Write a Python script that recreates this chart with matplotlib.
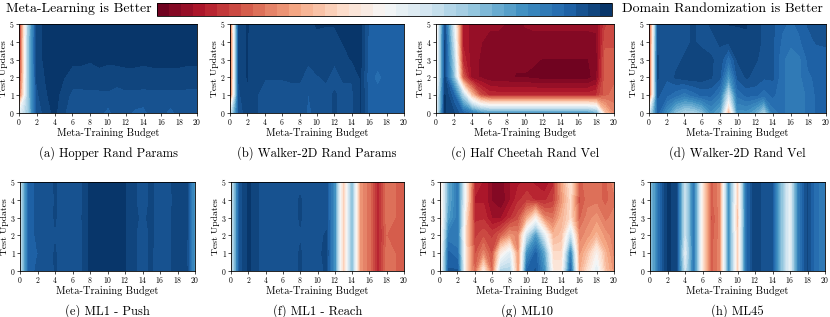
import numpy as np
import matplotlib
matplotlib.use('Agg')
import matplotlib.pyplot as plt

plt.rcParams['font.family'] = ['cmr10', 'DejaVu Serif']
plt.rcParams['mathtext.fontset'] = 'cm'
plt.rcParams['axes.formatter.use_mathtext'] = True

budget = np.arange(21)
updates = np.arange(6)

titles = ['(a) Hopper Rand Params', '(b) Walker-2D Rand Params',
          '(c) Half Cheetah Rand Vel', '(d) Walker-2D Rand Vel',
          '(e) ML1 - Push', '(f) ML1 - Reach', '(g) ML10', '(h) ML45']

# rows: test updates 0..5, columns: meta-training budget 0..20
hopper_params = [
    [0.05, 0.35, 0.85, 0.92, 0.96, 0.90, 0.87, 0.87, 0.87, 0.86, 0.82, 0.87, 0.86, 0.83, 0.82, 0.87, 0.86, 0.82, 0.86, 0.87, 0.87],
    [-0.70, 0.35, 0.88, 0.94, 0.97, 0.92, 0.88, 0.88, 0.88, 0.88, 0.88, 0.87, 0.88, 0.88, 0.88, 0.88, 0.88, 0.88, 0.88, 0.88, 0.88],
    [-0.80, 0.35, 0.90, 0.95, 0.97, 0.95, 0.92, 0.92, 0.93, 0.93, 0.94, 0.92, 0.93, 0.93, 0.92, 0.93, 0.93, 0.93, 0.93, 0.92, 0.92],
    [-0.85, 0.35, 0.92, 0.96, 0.97, 0.96, 0.96, 0.96, 0.95, 0.96, 0.95, 0.96, 0.96, 0.96, 0.96, 0.96, 0.96, 0.96, 0.96, 0.96, 0.96],
    [-0.85, 0.35, 0.92, 0.96, 0.97, 0.96, 0.97, 0.97, 0.97, 0.97, 0.97, 0.97, 0.97, 0.97, 0.97, 0.97, 0.97, 0.97, 0.97, 0.97, 0.97],
    [-0.85, 0.30, 0.92, 0.96, 0.97, 0.96, 0.95, 0.97, 0.97, 0.97, 0.97, 0.97, 0.97, 0.97, 0.97, 0.97, 0.97, 0.97, 0.97, 0.97, 0.97],
]

walker_params = [
    [0.10, 0.85, 0.93, 0.90, 0.87, 0.85, 0.87, 0.88, 0.88, 0.83, 0.86, 0.88, 0.90, 0.88, 0.88, 0.95, 0.82, 0.82, 0.83, 0.82, 0.82],
    [-0.75, 0.88, 0.94, 0.90, 0.86, 0.85, 0.86, 0.88, 0.88, 0.84, 0.87, 0.88, 0.90, 0.88, 0.88, 0.95, 0.82, 0.80, 0.82, 0.82, 0.82],
    [-0.80, 0.90, 0.95, 0.90, 0.90, 0.90, 0.90, 0.90, 0.90, 0.88, 0.89, 0.90, 0.88, 0.90, 0.90, 0.95, 0.80, 0.78, 0.80, 0.82, 0.82],
    [-0.80, 0.90, 0.95, 0.90, 0.90, 0.90, 0.90, 0.92, 0.90, 0.90, 0.92, 0.92, 0.90, 0.93, 0.95, 0.96, 0.82, 0.80, 0.82, 0.82, 0.82],
    [-0.80, 0.90, 0.95, 0.90, 0.90, 0.90, 0.92, 0.92, 0.90, 0.92, 0.94, 0.93, 0.93, 0.95, 0.96, 0.96, 0.82, 0.82, 0.82, 0.82, 0.82],
    [-0.80, 0.92, 0.95, 0.92, 0.93, 0.94, 0.93, 0.93, 0.92, 0.94, 0.95, 0.95, 0.95, 0.96, 0.96, 0.96, 0.83, 0.82, 0.83, 0.83, 0.83],
]

cheetah_vel = [
    [0.00, 0.95, 0.90, 0.80, 0.70, 0.60, 0.55, 0.55, 0.55, 0.55, 0.55, 0.55, 0.55, 0.55, 0.55, 0.55, 0.55, 0.55, 0.45, -0.30, -0.50],
    [-0.10, 0.95, 0.80, 0.30, -0.30, -0.65, -0.75, -0.76, -0.76, -0.76, -0.76, -0.76, -0.76, -0.76, -0.76, -0.76, -0.76, -0.76, -0.74, -0.60, -0.55],
    [-0.20, 0.90, 0.40, -0.60, -0.87, -0.90, -0.93, -0.94, -0.94, -0.95, -0.95, -0.96, -0.97, -0.97, -0.97, -0.97, -0.97, -0.97, -0.92, -0.60, -0.60],
    [-0.20, 0.90, 0.30, -0.75, -0.87, -0.90, -0.94, -0.94, -0.94, -0.94, -0.94, -0.94, -0.95, -0.95, -0.95, -0.95, -0.95, -0.95, -0.93, -0.60, -0.60],
    [-0.20, 0.90, 0.20, -0.80, -0.87, -0.89, -0.92, -0.92, -0.92, -0.93, -0.92, -0.92, -0.92, -0.92, -0.92, -0.92, -0.92, -0.92, -0.91, -0.65, -0.65],
    [-0.20, 0.85, 0.10, -0.80, -0.86, -0.87, -0.88, -0.88, -0.90, -0.92, -0.89, -0.88, -0.88, -0.88, -0.88, -0.88, -0.88, -0.88, -0.88, -0.70, -0.65],
]

walker_vel = [
    [0.10, 0.80, 0.60, 0.40, 0.30, 0.30, 0.40, 0.60, 0.50, -0.40, 0.60, 0.60, 0.50, 0.30, 0.70, 0.75, 0.70, 0.70, 0.75, 0.80, 0.80],
    [-0.80, 0.85, 0.80, 0.75, 0.70, 0.75, 0.80, 0.80, 0.70, 0.15, 0.75, 0.80, 0.80, 0.75, 0.80, 0.75, 0.70, 0.70, 0.75, 0.80, 0.80],
    [-0.85, 0.90, 0.85, 0.90, 0.92, 0.93, 0.92, 0.90, 0.85, 0.55, 0.85, 0.90, 0.88, 0.85, 0.85, 0.75, 0.70, 0.72, 0.78, 0.80, 0.82],
    [-0.85, 0.90, 0.85, 0.88, 0.90, 0.92, 0.92, 0.90, 0.88, 0.75, 0.90, 0.92, 0.90, 0.88, 0.85, 0.75, 0.70, 0.72, 0.80, 0.80, 0.82],
    [-0.85, 0.88, 0.85, 0.85, 0.88, 0.90, 0.88, 0.88, 0.90, 0.90, 0.93, 0.94, 0.92, 0.88, 0.85, 0.78, 0.75, 0.78, 0.82, 0.85, 0.85],
    [-0.85, 0.85, 0.85, 0.85, 0.88, 0.90, 0.88, 0.90, 0.92, 0.95, 0.95, 0.95, 0.92, 0.88, 0.85, 0.80, 0.78, 0.80, 0.85, 0.85, 0.85],
]

ml1_push = [
    [0.20, 0.80, 0.86, 0.85, 0.90, 0.86, 0.86, 0.88, 0.96, 0.97, 0.97, 0.97, 0.95, 0.90, 0.88, 0.90, 0.86, 0.88, 0.93, 0.93, 0.55],
    [0.20, 0.80, 0.84, 0.86, 0.90, 0.86, 0.86, 0.88, 0.96, 0.97, 0.97, 0.97, 0.95, 0.90, 0.88, 0.90, 0.87, 0.88, 0.93, 0.92, 0.55],
    [0.20, 0.80, 0.86, 0.88, 0.89, 0.86, 0.87, 0.88, 0.96, 0.97, 0.97, 0.97, 0.95, 0.90, 0.88, 0.90, 0.88, 0.88, 0.93, 0.93, 0.55],
    [0.20, 0.80, 0.86, 0.86, 0.90, 0.86, 0.86, 0.89, 0.96, 0.97, 0.97, 0.97, 0.95, 0.90, 0.89, 0.90, 0.88, 0.88, 0.93, 0.93, 0.55],
    [0.20, 0.80, 0.86, 0.85, 0.90, 0.87, 0.86, 0.88, 0.96, 0.97, 0.97, 0.97, 0.95, 0.90, 0.88, 0.90, 0.88, 0.87, 0.93, 0.93, 0.55],
    [0.20, 0.80, 0.86, 0.86, 0.90, 0.86, 0.86, 0.88, 0.96, 0.97, 0.97, 0.97, 0.95, 0.90, 0.88, 0.90, 0.88, 0.88, 0.93, 0.93, 0.55],
]

ml1_reach = [
    [0.15, 0.86, 0.97, 0.90, 0.86, 0.86, 0.86, 0.87, 0.90, 0.86, 0.88, 0.90, 0.60, -0.25, 0.45, -0.45, -0.55, -0.78, -0.55, -0.58, -0.58],
    [0.15, 0.86, 0.97, 0.90, 0.86, 0.86, 0.86, 0.87, 0.90, 0.86, 0.88, 0.91, 0.60, -0.25, 0.45, -0.45, -0.55, -0.78, -0.55, -0.58, -0.58],
    [0.15, 0.86, 0.97, 0.90, 0.86, 0.86, 0.86, 0.87, 0.89, 0.86, 0.88, 0.90, 0.60, -0.25, 0.45, -0.45, -0.55, -0.78, -0.58, -0.58, -0.58],
    [0.15, 0.86, 0.97, 0.90, 0.86, 0.86, 0.86, 0.87, 0.90, 0.86, 0.88, 0.88, 0.60, -0.25, 0.45, -0.45, -0.55, -0.78, -0.55, -0.58, -0.58],
    [0.15, 0.86, 0.97, 0.90, 0.86, 0.86, 0.86, 0.87, 0.90, 0.86, 0.87, 0.88, 0.60, -0.25, 0.45, -0.45, -0.55, -0.78, -0.55, -0.58, -0.58],
    [0.15, 0.86, 0.97, 0.90, 0.86, 0.86, 0.86, 0.87, 0.88, 0.86, 0.87, 0.88, 0.60, -0.25, 0.45, -0.45, -0.55, -0.78, -0.55, -0.58, -0.58],
]

ml10 = [
    [-0.20, 0.85, 0.85, -0.20, -0.60, -0.10, -0.60, 0.30, 0.30, -0.50, 0.80, 0.85, 0.60, -0.10, -0.10, 0.80, -0.40, -0.15, 0.10, -0.30, -0.45],
    [-0.20, 0.80, 0.75, -0.20, -0.65, -0.50, -0.65, -0.10, 0.10, -0.50, 0.60, 0.80, 0.50, -0.20, -0.20, 0.65, -0.45, -0.30, -0.05, -0.35, -0.50],
    [-0.25, 0.70, 0.70, -0.25, -0.70, -0.65, -0.70, -0.60, -0.45, -0.50, 0.20, 0.55, 0.10, -0.35, -0.30, 0.20, -0.50, -0.45, -0.35, -0.45, -0.50],
    [-0.25, 0.55, 0.70, -0.20, -0.75, -0.75, -0.85, -0.85, -0.75, -0.65, -0.40, -0.10, -0.50, -0.55, -0.35, -0.20, -0.60, -0.50, -0.45, -0.55, -0.50],
    [-0.20, 0.50, 0.70, -0.10, -0.80, -0.80, -0.90, -0.95, -0.85, -0.75, -0.70, -0.75, -0.75, -0.70, -0.45, -0.20, -0.65, -0.55, -0.55, -0.60, -0.55],
    [-0.20, 0.50, 0.70, -0.10, -0.75, -0.80, -0.90, -0.92, -0.85, -0.80, -0.78, -0.80, -0.85, -0.75, -0.40, -0.15, -0.60, -0.55, -0.55, -0.60, -0.50],
]

ml45 = [
    [0.35, 0.75, 0.97, 0.92, 0.15, 0.70, -0.15, -0.60, -0.50, 0.60, -0.30, 0.75, 0.95, 0.86, 0.86, 0.40, 0.05, 0.70, 0.90, 0.75, 0.70],
    [0.35, 0.75, 0.97, 0.92, 0.05, 0.70, -0.15, -0.60, -0.50, 0.60, -0.30, 0.75, 0.95, 0.86, 0.86, 0.40, 0.05, 0.70, 0.90, 0.75, 0.70],
    [0.35, 0.75, 0.97, 0.92, 0.15, 0.70, -0.15, -0.62, -0.50, 0.60, -0.30, 0.75, 0.95, 0.86, 0.86, 0.40, 0.05, 0.70, 0.90, 0.75, 0.70],
    [0.35, 0.75, 0.97, 0.92, 0.15, 0.70, -0.15, -0.65, -0.50, 0.60, -0.35, 0.75, 0.95, 0.86, 0.86, 0.40, 0.05, 0.70, 0.90, 0.75, 0.70],
    [0.35, 0.75, 0.97, 0.92, 0.15, 0.70, -0.15, -0.60, -0.50, 0.60, -0.30, 0.75, 0.95, 0.86, 0.86, 0.40, 0.05, 0.70, 0.90, 0.75, 0.70],
    [0.35, 0.75, 0.97, 0.92, 0.15, 0.70, -0.15, -0.60, -0.50, 0.60, -0.30, 0.75, 0.95, 0.86, 0.86, 0.40, 0.05, 0.70, 0.90, 0.75, 0.70],
]

grids = [hopper_params, walker_params, cheetah_vel, walker_vel,
         ml1_push, ml1_reach, ml10, ml45]

# axes boxes in pixels: left, right, top, bottom
boxes = [(19, 197, 24, 113), (230, 404, 24, 113), (436, 614, 24, 113), (649, 826, 24, 113),
         (20, 195, 182, 271), (231, 404, 182, 271), (440, 614, 182, 271), (650, 825, 182, 271)]

W, H = 830, 317
fig = plt.figure(figsize=(W / 100, H / 100), dpi=100)
levels = np.linspace(-1, 1, 39)

cs = None
for (l, r, t, b), Z, title in zip(boxes, grids, titles):
    ax = fig.add_axes([l / W, 1 - b / H, (r - l) / W, (b - t) / H])
    cs = ax.contourf(budget, updates, np.array(Z), levels=levels, cmap='RdBu')
    ax.set_xticks(range(0, 21, 2))
    ax.set_yticks(range(6))
    ax.tick_params(labelsize=5.5, length=2, width=0.5, pad=1)
    for s in ax.spines.values():
        s.set_linewidth(0.6)
    ax.set_xlabel('Meta-Training Budget', fontsize=7.5, labelpad=0.5)
    ax.set_ylabel('Test Updates', fontsize=7, labelpad=1)
    fig.text((l + r) / 2 / W, 1 - (b + 40) / H, title, ha='center', va='center', fontsize=9)

cax = fig.add_axes([157 / W, 1 - 16 / H, (612 - 157) / W, 13 / H])
cb = fig.colorbar(cs, cax=cax, orientation='horizontal')
cb.set_ticks([])
cb.outline.set_linewidth(0.6)
fig.text(152 / W, 1 - 9 / H, 'Meta-Learning is Better', ha='right', va='center', fontsize=10)
fig.text(622 / W, 1 - 9 / H, 'Domain Randomization is Better', ha='left', va='center', fontsize=10)

plt.savefig('out.png', dpi=100)
